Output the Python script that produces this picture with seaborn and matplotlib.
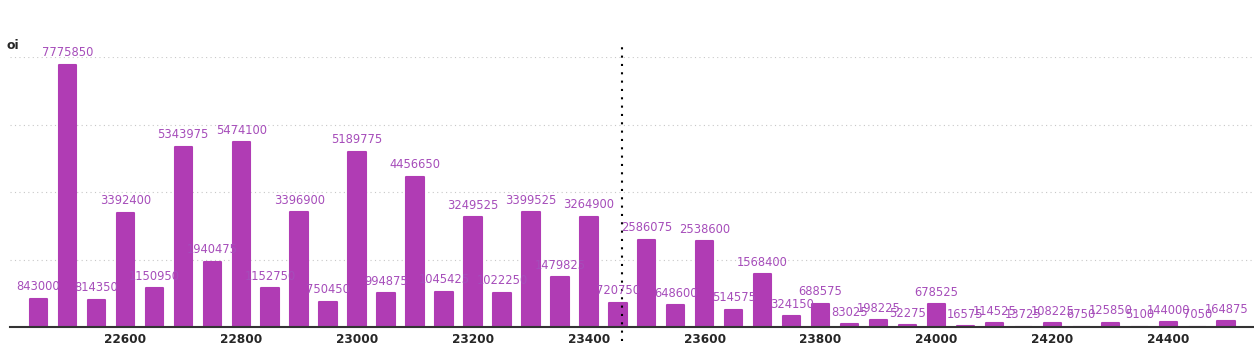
import pandas as pd
import seaborn as sns
import matplotlib.pyplot as plt

strikes = [22450, 22500, 22550, 22600, 22650, 22700, 22750, 22800, 22850, 22900,
           22950, 23000, 23050, 23100, 23150, 23200, 23250, 23300, 23350, 23400,
           23450, 23500, 23550, 23600, 23650, 23700, 23750, 23800, 23850, 23900,
           23950, 24000, 24050, 24100, 24150, 24200, 24250, 24300, 24350, 24400,
           24450, 24500]
oi = [843000, 7775850, 814350, 3392400, 1150950, 5343975, 1940475, 5474100, 1152750, 3396900,
      750450, 5189775, 994875, 4456650, 1045425, 3249525, 1022250, 3399525, 1479825, 3264900,
      720750, 2586075, 648600, 2538600, 514575, 1568400, 324150, 688575, 83025, 198225,
      52275, 678525, 16575, 114525, 13725, 108225, 6750, 125850, 5100, 144000,
      7050, 164875]
spot = 23458
xticks = [22600, 22800, 23000, 23200, 23400, 23600, 23800, 24000, 24200, 24400]

df = pd.DataFrame({"strike": strikes, "oi": oi})

sns.set_style("white")
plt.rcParams['font.family'] = ['DejaVu Sans']

bar_color = "#b03cb4"
label_color = "#a64dba"

fig = plt.figure(figsize=(12.54, 3.52), dpi=100)
ax = fig.add_axes([0.008, 0.071, 0.992, 0.767])

sns.barplot(data=df, x="strike", y="oi", native_scale=True, width=0.6,
            color=bar_color, saturation=1, ax=ax)
for p in ax.patches:
    p.set_edgecolor(bar_color)
    p.set_linewidth(1.5)
    p.set_joinstyle("round")

for s, v in zip(strikes, oi):
    ax.annotate(str(v), (s, v), xytext=(0, 4), textcoords="offset points",
                ha="center", va="bottom", fontsize=8.3, color=label_color)

ax.set_xlim(22401, 24548)
ax.set_ylim(0, 8000000)
ax.set_yticks([2000000, 4000000, 6000000, 8000000])
ax.set_yticklabels([])
ax.tick_params(axis="y", length=0)
ax.yaxis.grid(True, linestyle=(0, (1, 3)), color="#c8c8c8", linewidth=0.8)
ax.set_axisbelow(True)

ax.set_xticks(xticks)
ax.set_xticklabels([str(t) for t in xticks], fontweight="bold", fontsize=8.7)
ax.tick_params(axis="x", length=0, pad=4)
ax.set_xlabel("")
ax.set_ylabel("")

for side in ["top", "right", "left"]:
    ax.spines[side].set_visible(False)
ax.spines["bottom"].set_color("#333333")
ax.spines["bottom"].set_linewidth(1.5)

ax.axvline(spot, ymin=-0.05, ymax=1.04, color="black", linestyle=(0, (1, 3)),
           linewidth=1.5, clip_on=False)

fig.text(0.005, 0.872, "oi", fontsize=9, fontweight="bold", ha="left", va="center")

plt.savefig("out.png", dpi=100)
